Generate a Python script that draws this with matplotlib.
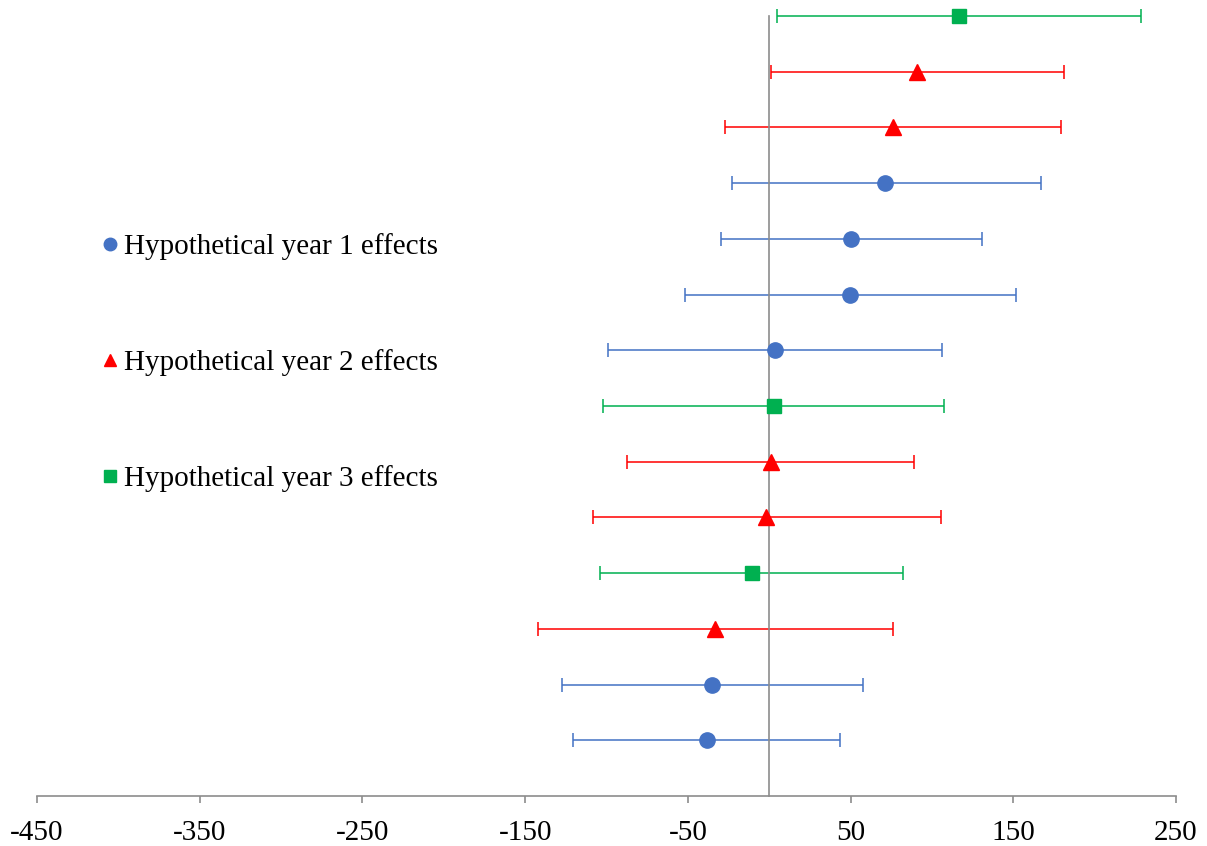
import matplotlib
matplotlib.use("Agg")
import matplotlib.pyplot as plt
from matplotlib.lines import Line2D

# rows from bottom to top, year of each estimate
years = [1, 1, 2, 3, 2, 2, 3, 1, 1, 1, 1, 2, 2, 3]
estimates = [-38.3, -35.2, -33.3, -10.6, -1.8, 0.9, 2.7, 3.7, 49.7, 50.3, 71.2, 76.1, 91.0, 116.6]
lower = [-120.6, -127.4, -142.1, -104.0, -108.6, -87.4, -102.2, -99.1, -51.7, -29.6, -22.9, -27.2, 0.8, 4.8]
upper = [43.6, 57.6, 76.1, 82.4, 105.6, 89.0, 107.4, 106.2, 151.7, 130.8, 167.1, 179.3, 181.2, 228.5]

year_labels = {1: "Hypothetical year 1 effects",
               2: "Hypothetical year 2 effects",
               3: "Hypothetical year 3 effects"}
year_colors = {1: "#4472C4", 2: "#FF0000", 3: "#00B050"}
year_markers = {1: "o", 2: "^", 3: "s"}
year_msize = {1: 11, 2: 11, 3: 10}

xticks = [-450, -350, -250, -150, -50, 50, 150, 250]

plt.rcParams['font.family'] = ['Liberation Serif', 'DejaVu Serif']

fig = plt.figure(figsize=(12.07, 8.46), dpi=100)
ax = fig.add_axes([37 / 1207, 50 / 846, 1139 / 1207, 780 / 846])

for i, (yr, est, lo, hi) in enumerate(zip(years, estimates, lower, upper)):
    row = i + 1
    c = year_colors[yr]
    ax.errorbar([est], [row], xerr=[[est - lo], [hi - est]], fmt='none',
                ecolor=c, elinewidth=1.3, capsize=5, capthick=1.3,
                alpha=0.85, clip_on=False, zorder=2)
    ax.plot([est], [row], linestyle='none', marker=year_markers[yr],
            markersize=year_msize[yr], color=c, clip_on=False, zorder=3)

ax.set_xlim(-450, 250)
ax.set_ylim(0, 14)
ax.set_xticks(xticks)
ax.set_xticklabels([str(v) for v in xticks], fontsize=21)
ax.set_yticks([])

ax.spines['top'].set_visible(False)
ax.spines['right'].set_visible(False)
ax.spines['left'].set_position(('data', 0))
for s in ('left', 'bottom'):
    ax.spines[s].set_color('#8c8c8c')
    ax.spines[s].set_linewidth(1.2)
ax.tick_params(axis='x', direction='out', length=5, width=1.2,
               color='#8c8c8c', pad=12)
ax.zorder = 1

handles = [Line2D([], [], linestyle='none', marker=year_markers[y],
                  markersize=9, color=year_colors[y]) for y in (1, 2, 3)]
ax.legend(handles, [year_labels[y] for y in (1, 2, 3)], loc='upper left',
          bbox_to_anchor=(101 / 1207, 1 - 233 / 846), bbox_transform=fig.transFigure,
          frameon=False, fontsize=21, labelspacing=3.05, handlelength=0.6,
          handletextpad=0.2, borderpad=0, borderaxespad=0)

fig.savefig("out.png", dpi=100)
